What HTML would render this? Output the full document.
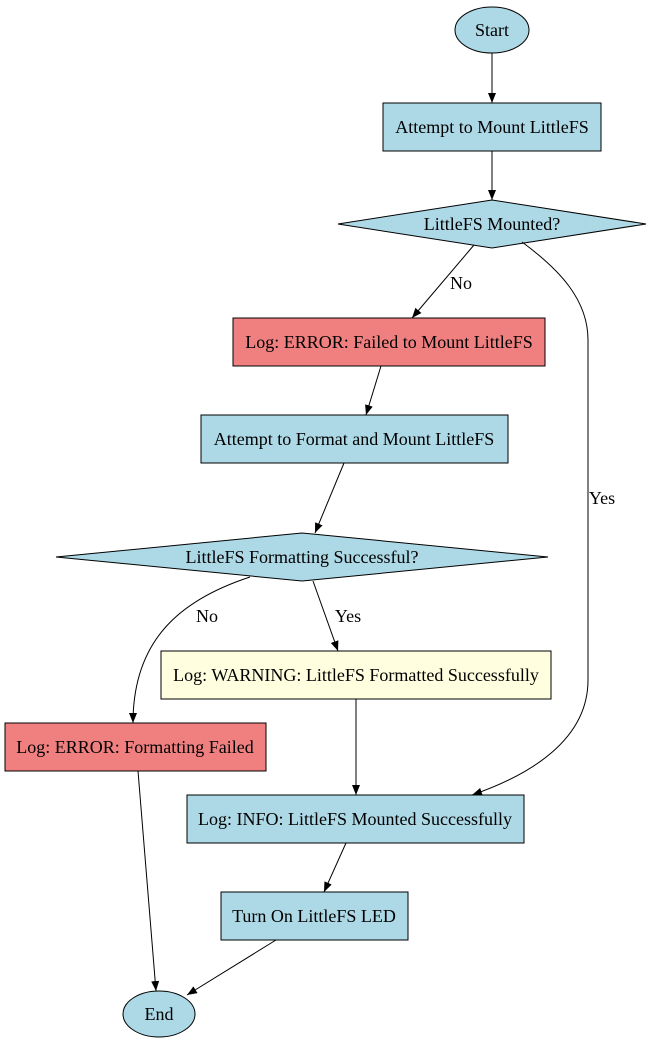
<!DOCTYPE html>
<html><head><meta charset="utf-8"><style>
html,body{margin:0;padding:0;background:#fff;}
text{font-family:"Liberation Serif",serif;font-size:18px;fill:#000;}
</style></head><body>
<svg width="651" height="1043" viewBox="0 0 651 1043" xmlns="http://www.w3.org/2000/svg">
<defs>
<marker id="a" markerWidth="10" markerHeight="8" refX="10" refY="4" orient="auto" markerUnits="userSpaceOnUse">
<path d="M0,0 L10,4 L0,8 Z" fill="#000"/>
</marker>
</defs>
<g stroke="#000" stroke-width="1">
<ellipse cx="492" cy="30" rx="37" ry="23" fill="#add8e6"/>
<rect x="383" y="103" width="218" height="48" fill="#add8e6"/>
<polygon points="338,224 492,200 646,224 492,248" fill="#add8e6"/>
<rect x="233" y="318" width="312" height="48" fill="#f08080"/>
<rect x="201" y="415" width="307" height="48" fill="#add8e6"/>
<polygon points="56,557 302,533 548,557 302,581" fill="#add8e6"/>
<rect x="161" y="651" width="390" height="48" fill="#ffffe0"/>
<rect x="5" y="723" width="261" height="48" fill="#f08080"/>
<rect x="187" y="795" width="337" height="48" fill="#add8e6"/>
<rect x="221" y="892" width="187" height="48" fill="#add8e6"/>
<ellipse cx="159" cy="1014" rx="36" ry="23" fill="#add8e6"/>
</g>
<g stroke="#000" stroke-width="1" fill="none" marker-end="url(#a)">
<path d="M492,53 L492,103"/>
<path d="M492,151 L492,200"/>
<path d="M474,245 L412,318"/>
<path d="M522,242 C560,270 588,300 588,340 L588,680 C588,740 530,775 472,795"/>
<path d="M381,366 L366,415"/>
<path d="M344,463 L315,533"/>
<path d="M313,581 L338,651"/>
<path d="M250,577 C180,600 133,640 133,723"/>
<path d="M356,699 L356,795"/>
<path d="M346,843 L324,892"/>
<path d="M276,940 L187,995"/>
<path d="M138,771 L156,991"/>
</g>
<g text-anchor="middle">
<text x="492" y="36">Start</text>
<text x="492" y="133">Attempt to Mount LittleFS</text>
<text x="492" y="230">LittleFS Mounted?</text>
<text x="389" y="348">Log: ERROR: Failed to Mount LittleFS</text>
<text x="354" y="445">Attempt to Format and Mount LittleFS</text>
<text x="302" y="563">LittleFS Formatting Successful?</text>
<text x="356" y="681">Log: WARNING: LittleFS Formatted Successfully</text>
<text x="135" y="753">Log: ERROR: Formatting Failed</text>
<text x="355" y="825">Log: INFO: LittleFS Mounted Successfully</text>
<text x="314" y="922">Turn On LittleFS LED</text>
<text x="159" y="1020">End</text>
<text x="461" y="289">No</text>
<text x="602" y="504">Yes</text>
<text x="348" y="622">Yes</text>
<text x="207" y="622">No</text>
</g>
</svg>
</body></html>
